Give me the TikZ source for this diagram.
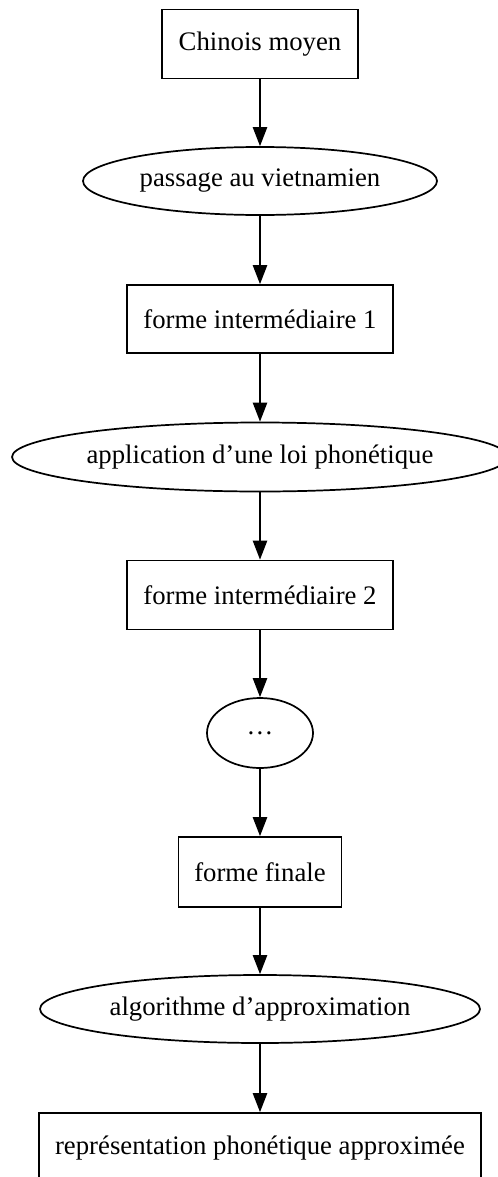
\documentclass[tikz,border=0pt]{standalone}
\usepackage{fontspec}
\setmainfont{Liberation Serif}
\usetikzlibrary{shapes.geometric,arrows.meta}
\def\px{0.5236pt}
\tikzset{
  base/.style={draw=black, line width=0.9pt, font=\fontsize{14}{16}\selectfont, inner sep=0pt},
  stepbox/.style={base, rectangle},
  action/.style={base, ellipse},
  flow/.style={draw=black, line width=0.9pt, -{Triangle[length=10pt,width=7.5pt]}}
}
\begin{document}
\begin{tikzpicture}[x=\px, y=-\px]
  \useasboundingbox (0,0) rectangle (498,1177);
  \clip (0,0) rectangle (498,1177);
  \node[stepbox, minimum width=196*\px, minimum height=69*\px] (n1) at (260,44) {Chinois moyen};
  \node[action, minimum width=354*\px, minimum height=68*\px] (n2) at (260,181) {passage au vietnamien};
  \node[stepbox, minimum width=266*\px, minimum height=68*\px] (n3) at (260,319) {forme intermédiaire 1};
  \node[action, minimum width=496*\px, minimum height=69*\px] (n4) at (260,457) {application d’une loi phonétique};
  \node[stepbox, minimum width=266*\px, minimum height=69*\px] (n5) at (260,595) {forme intermédiaire 2};
  \node[action, minimum width=106*\px, minimum height=70*\px] (n6) at (260,733) {…};
  \node[stepbox, minimum width=163*\px, minimum height=70*\px] (n7) at (260,872) {forme finale};
  \node[action, minimum width=440*\px, minimum height=68*\px] (n8) at (260,1009) {algorithme d’approximation};
  \node[stepbox, minimum width=442*\px, minimum height=70*\px] (n9) at (260,1148) {représentation phonétique approximée};
  \draw[flow] (n1) -- (n2);
  \draw[flow] (n2) -- (n3);
  \draw[flow] (n3) -- (n4);
  \draw[flow] (n4) -- (n5);
  \draw[flow] (n5) -- (n6);
  \draw[flow] (n6) -- (n7);
  \draw[flow] (n7) -- (n8);
  \draw[flow] (n8) -- (n9);
\end{tikzpicture}
\end{document}
